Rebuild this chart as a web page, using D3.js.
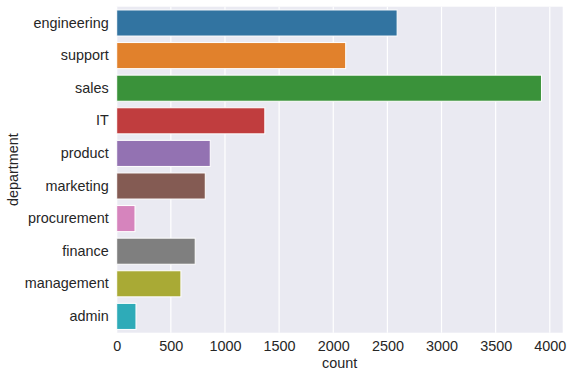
<!DOCTYPE html>
<html><head><meta charset="utf-8">
<script src="https://cdn.jsdelivr.net/npm/d3@7"></script>
<style>body{margin:0;background:#fff}svg{display:block}text{font-family:"Liberation Sans",Arial,sans-serif;fill:#262626}</style>
</head><body><svg id="c" width="573" height="379"></svg>
<script>
const categories = ["engineering","support","sales","IT","product","marketing","procurement","finance","management","admin"];
const counts = [2590,2115,3923,1368,864,818,169,725,593,178];
const colors = ["#3274a1","#e1812c","#3a923a","#c03d3e","#9372b2","#845b53","#d684bd","#7f7f7f","#a9aa35","#2eabb8"];
const xTicks = [0,500,1000,1500,2000,2500,3000,3500,4000];

const svg = d3.select("#c");
const m = {left:116.7, right:562.7, top:6.7, bottom:332.7};
const fs = 14.4;
const x = d3.scaleLinear().domain([0, d3.max(counts)*1.05]).range([m.left, m.right]);
const y = d3.scaleBand().domain(categories).range([m.top, m.bottom]).paddingInner(0.2).paddingOuter(0.1);

svg.append("rect").attr("x",m.left).attr("y",m.top).attr("width",m.right-m.left).attr("height",m.bottom-m.top).attr("fill","#eaeaf2");

svg.append("g").selectAll("line").data(xTicks).join("line")
  .attr("x1",d=>x(d)).attr("x2",d=>x(d)).attr("y1",m.top).attr("y2",m.bottom)
  .attr("stroke","#fff").attr("stroke-width",1.2);

svg.append("g").selectAll("rect").data(categories).join("rect")
  .attr("x",x(0)).attr("y",d=>y(d)).attr("width",(d,i)=>x(counts[i])-x(0)).attr("height",y.bandwidth())
  .attr("fill",(d,i)=>colors[i]).attr("stroke","#fff").attr("stroke-width",1);

const xa = svg.append("g").attr("transform",`translate(0,${m.bottom})`)
  .call(d3.axisBottom(x).tickValues(xTicks).tickSize(0).tickPadding(8).tickFormat(d3.format("d")));
xa.select(".domain").remove();
xa.selectAll("text").attr("font-size",fs).style("fill","#262626").attr("font-family","Liberation Sans, Arial, sans-serif");

const ya = svg.append("g").attr("transform",`translate(${m.left},0)`)
  .call(d3.axisLeft(y).tickSize(0).tickPadding(8));
ya.select(".domain").remove();
ya.selectAll("text").attr("font-size",fs).style("fill","#262626").attr("font-family","Liberation Sans, Arial, sans-serif");

svg.append("text").attr("x",(m.left+m.right)/2).attr("y",367.5).attr("text-anchor","middle").attr("font-size",fs).text("count");
svg.append("text").attr("transform",`translate(18,${(m.top+m.bottom)/2}) rotate(-90)`).attr("text-anchor","middle").attr("font-size",fs).text("department");
</script></body></html>
